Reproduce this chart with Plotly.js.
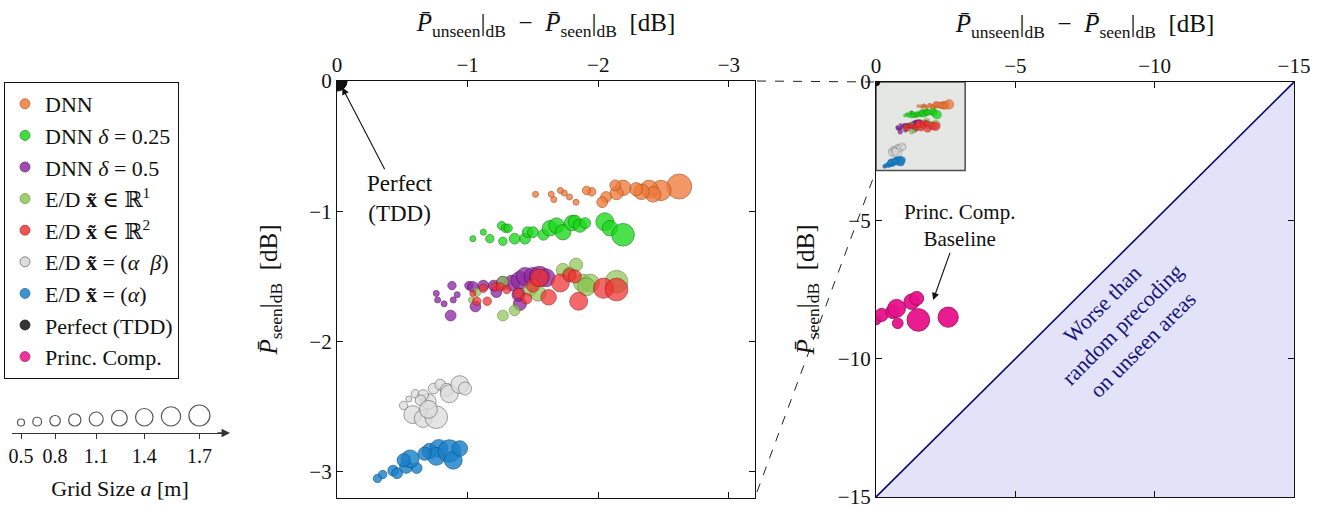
<!DOCTYPE html>
<html>
<head>
<meta charset="utf-8">
<script src="https://cdn.plot.ly/plotly-3.0.1.min.js"></script>
<style>html,body{margin:0;padding:0;background:#fff;} #chart{width:1330px;height:508px;}</style>
</head>
<body>
<div id="chart"></div>
<script>
// ---------------- DATA ----------------
const seriesNames = [
  'DNN',
  'DNN <i>δ</i> = 0.25',
  'DNN <i>δ</i> = 0.5',
  'E/D <b>x̃</b> ∈ ℝ<sup>1</sup>',
  'E/D <b>x̃</b> ∈ ℝ<sup>2</sup>',
  'E/D <b>x̃</b> = (<i>α  β</i>)',
  'E/D <b>x̃</b> = (<i>α</i>)',
  'Perfect (TDD)',
  'Princ. Comp.'
];
const seriesColors = ['#ef7b3c','#1cd81c','#8f2ba3','#8fc655','#ef3434','#dcdcdc','#1b81c9','#111111','#e8118a'];
const seriesLines  = ['#a9501c','#108a10','#5a1068','#5f8a30','#a01818','#6e6e6e','#0f5a90','#000000','#9a0a5a'];

// x: P_unseen - P_seen [dB], y: P_seen [dB], a: grid size [m]
const dnnX = [-2.62,-2.48,-2.39,-2.42,-2.33,-2.29,-2.19,-2.14,-2.06,-2.03,-2.13,-1.95,-1.91,-1.83,-1.78,-1.74,-1.71,-1.66,-1.64,-1.52];
const dnnY = [-0.81,-0.84,-0.83,-0.87,-0.85,-0.83,-0.82,-0.86,-0.89,-0.93,-0.80,-0.85,-0.84,-0.93,-0.89,-0.86,-0.84,-0.91,-0.87,-0.87];
const dnnA = [1.7,1.4,1.25,1.1,1.1,0.95,1.1,0.95,0.8,0.8,0.8,0.65,0.65,0.5,0.5,0.5,0.5,0.5,0.5,0.5];

const dnn25X = [-1.04,-1.12,-1.17,-1.26,-1.29,-1.31,-1.27,-1.36,-1.44,-1.46,-1.50,-1.58,-1.63,-1.68,-1.73,-1.80,-1.82,-1.86,-1.90,-2.05,-2.09,-2.19];
const dnn25Y = [-1.21,-1.16,-1.21,-1.11,-1.13,-1.13,-1.23,-1.21,-1.21,-1.16,-1.16,-1.18,-1.13,-1.11,-1.16,-1.09,-1.08,-1.11,-1.09,-1.08,-1.13,-1.18];
const dnn25A = [0.5,0.5,0.65,0.65,0.65,0.65,0.65,0.8,0.8,0.8,0.8,0.8,1.1,1.1,1.1,1.1,0.95,0.95,0.8,1.25,1.1,1.55];

const dnn50X = [-0.76,-0.77,-0.82,-0.89,-0.92,-0.88,-0.87,-1.01,-1.04,-1.06,-1.12,-1.20,-1.22,-1.27,-1.34,-1.40,-1.44,-1.50,-1.55,-1.60,-1.40,-1.39];
const dnn50Y = [-1.63,-1.68,-1.71,-1.68,-1.64,-1.57,-1.80,-1.57,-1.58,-1.73,-1.57,-1.57,-1.62,-1.55,-1.55,-1.53,-1.50,-1.50,-1.50,-1.51,-1.71,-1.64];
const dnn50A = [0.5,0.5,0.5,0.5,0.5,0.65,0.8,0.65,0.8,0.8,0.8,0.8,0.8,0.95,1.1,1.25,1.25,1.25,1.4,1.25,0.95,0.95];

const edR1X = [-1.27,-1.07,-1.03,-1.27,-1.36,-1.48,-1.54,-1.73,-1.83,-1.78,-1.88,-1.94,-1.91,-2.14];
const edR1Y = [-1.54,-1.62,-1.68,-1.80,-1.76,-1.60,-1.63,-1.45,-1.41,-1.48,-1.55,-1.55,-1.58,-1.54];
const edR1A = [0.8,0.65,0.5,0.8,0.8,0.95,1.1,0.95,0.95,0.95,1.25,1.25,1.25,1.55];

const edR2X = [-1.04,-1.07,-1.12,-1.15,-1.21,-1.25,-1.30,-1.39,-1.45,-1.50,-1.55,-1.62,-1.71,-1.78,-1.82,-1.85,-2.04,-2.14];
const edR2Y = [-1.63,-1.69,-1.59,-1.69,-1.58,-1.58,-1.60,-1.63,-1.67,-1.57,-1.51,-1.66,-1.55,-1.49,-1.50,-1.69,-1.59,-1.60];
const edR2A = [0.5,0.65,0.65,0.65,0.65,0.65,0.65,0.8,0.8,0.95,1.25,1.1,1.25,0.95,0.95,1.25,1.4,1.55];

const edABX = [-0.51,-0.55,-0.60,-0.58,-0.66,-0.76,-0.70,-0.66,-0.74,-0.79,-0.84,-0.86,-0.94,-0.98,-0.64,-0.70];
const edABY = [-2.49,-2.44,-2.40,-2.56,-2.59,-2.58,-2.46,-2.41,-2.36,-2.33,-2.37,-2.40,-2.33,-2.36,-2.45,-2.52];
const edABA = [0.65,0.5,0.65,1.25,1.25,1.55,1.1,0.8,0.8,0.8,0.95,1.25,1.25,0.95,0.8,1.25];

const edAX = [-0.31,-0.35,-0.43,-0.46,-0.53,-0.61,-0.56,-0.51,-0.71,-0.78,-0.76,-0.86,-0.89,-0.94,-0.67];
const edAY = [-3.05,-3.02,-2.99,-3.01,-2.96,-2.97,-2.90,-2.91,-2.84,-2.82,-2.88,-2.84,-2.91,-2.82,-2.86];
const edAA = [0.65,0.65,0.8,0.8,0.95,0.8,1.25,0.95,1.1,1.25,1.25,1.55,1.25,1.1,0.95];

const tddX = [0];
const tddY = [0];
const tddA = [1.4];

const pcX = [0.0,-0.2,-0.6,-0.74,-1.28,-1.46,-0.78,-1.52,-2.59];
const pcY = [-8.6,-8.42,-8.3,-8.18,-7.94,-7.82,-8.72,-8.60,-8.50];
const pcA = [0.75,0.95,1.0,1.25,1.1,1.0,0.8,1.55,1.4];

const gridSizes = [0.5,0.65,0.8,0.95,1.1,1.25,1.4,1.55,1.7];
const sizeTickLabels = ['0.5','0.8','1.1','1.4','1.7'];

const leftTicks = [0,-1,-2,-3];
const rightTicks = [0,-5,-10,-15];

// ---------------- BUILD ----------------
const FONT = 'Liberation Serif, Times New Roman, DejaVu Serif, serif';
const bigSize = a => 6 + (a - 0.5) * 15.8;
const smallSize = a => 3 + (a - 0.5) * 5.5;

const series = [
  [dnnX, dnnY, dnnA], [dnn25X, dnn25Y, dnn25A], [dnn50X, dnn50Y, dnn50A],
  [edR1X, edR1Y, edR1A], [edR2X, edR2Y, edR2A], [edABX, edABY, edABA],
  [edAX, edAY, edAA], [tddX, tddY, tddA]
];
const opac = [0.78,0.78,0.78,0.72,0.74,0.75,0.82,1,0.95];

const traces = [];
series.forEach((s, i) => {
  traces.push({
    type: 'scatter', mode: 'markers', x: s[0], y: s[1], xaxis: 'x', yaxis: 'y',
    showlegend: false, hoverinfo: 'skip', cliponaxis: true,
    marker: {size: s[2].map(bigSize), color: seriesColors[i], opacity: opac[i],
             line: {color: seriesLines[i], width: 0.9}}
  });
});
series.forEach((s, i) => {
  traces.push({
    type: 'scatter', mode: 'markers', x: s[0], y: s[1], xaxis: 'x2', yaxis: 'y2',
    showlegend: false, hoverinfo: 'skip', cliponaxis: true,
    marker: {size: s[2].map(smallSize), color: seriesColors[i], opacity: opac[i],
             line: {color: seriesLines[i], width: 0.5}}
  });
});
traces.push({
  type: 'scatter', mode: 'markers', x: pcX, y: pcY, xaxis: 'x2', yaxis: 'y2',
  showlegend: false, hoverinfo: 'skip', cliponaxis: true,
  marker: {size: pcA.map(bigSize), color: seriesColors[8], opacity: 0.95,
           line: {color: seriesLines[8], width: 0.9}}
});
// legend entries
seriesNames.forEach((n, i) => {
  traces.push({
    type: 'scatter', mode: 'markers', x: [null], y: [null], xaxis: 'x', yaxis: 'y',
    name: n, legendgroup: 'g' + i, showlegend: true,
    marker: {size: 10, color: seriesColors[i], opacity: i === 5 ? 1 : 0.85,
             line: {color: seriesLines[i], width: 0.8}}
  });
});
// size legend
const legD = a => 7 + (a - 0.5) / 1.2 * 14;
const ds = gridSizes.map(legD);
const pos = [9];
for (let i = 1; i < ds.length; i++) pos.push(pos[i - 1] + (ds[i - 1] + ds[i]) / 2 + 8.3);
traces.push({
  type: 'scatter', mode: 'markers', x: pos, y: ds.map(d => 7 + d / 2), xaxis: 'x3', yaxis: 'y3',
  showlegend: false, hoverinfo: 'skip', cliponaxis: false,
  marker: {size: ds, color: 'white', line: {color: '#111', width: 1.2}}
});

const W = 1330, H = 508;
const px = v => v / W, py = v => 1 - v / H;

const axBase = {
  showgrid: false, zeroline: false, showline: true, linecolor: '#111', linewidth: 1.1,
  ticks: 'inside', ticklen: 6, tickcolor: '#111', mirror: 'ticks', ticklabeloverflow: 'allow',
  tickfont: {family: FONT, size: 21, color: '#111'}
};
const xTitle = '<i>P̄</i><sub>unseen</sub>|<sub>dB</sub>  −  <i>P̄</i><sub>seen</sub>|<sub>dB</sub>  [dB]';
const yTitle = '<i>P̄</i><sub>seen</sub>|<sub>dB</sub>  [dB]';
const titleFont = {family: FONT, size: 25, color: '#111'};

const layout = {
  width: W, height: H, margin: {l: 0, r: 0, t: 0, b: 0},
  paper_bgcolor: 'white', plot_bgcolor: 'white',
  font: {family: FONT, color: '#111'},
  xaxis: Object.assign({}, axBase, {domain: [px(337), px(755)], range: [0, -3.2], side: 'top', anchor: 'y',
    tickvals: leftTicks, title: {text: xTitle, font: titleFont, standoff: 13}}),
  yaxis: Object.assign({}, axBase, {domain: [py(498), py(81)], range: [-3.2, 0], anchor: 'x',
    tickvals: leftTicks, title: {text: yTitle, font: titleFont, standoff: 24}}),
  xaxis2: Object.assign({}, axBase, {domain: [px(876), px(1294)], range: [0, -15], side: 'top', anchor: 'y2',
    tickvals: rightTicks, title: {text: xTitle, font: titleFont, standoff: 13}}),
  yaxis2: Object.assign({}, axBase, {domain: [py(497), py(82)], range: [-15, 0], anchor: 'x2',
    tickvals: rightTicks, title: {text: yTitle, font: titleFont, standoff: 16}}),
  xaxis3: {domain: [px(12), px(228)], range: [0, 216], anchor: 'y3', showgrid: false, zeroline: false,
    showline: true, linecolor: '#333', linewidth: 1.3, ticks: 'outside', ticklen: 5, tickcolor: '#333',
    tickvals: [pos[0], pos[2], pos[4], pos[6], pos[8]], ticktext: sizeTickLabels,
    tickfont: {family: FONT, size: 20, color: '#111'},
    title: {text: 'Grid Size <i>a</i> [m]', font: {family: FONT, size: 22, color: '#111'}, standoff: 14}},
  yaxis3: {domain: [py(433), py(405)], range: [0, 28], anchor: 'x3', visible: false},
  showlegend: true,
  legend: {x: px(4), y: py(82), xanchor: 'left', yanchor: 'top', bordercolor: '#111', borderwidth: 1,
    bgcolor: 'white', font: {family: FONT, size: 22, color: '#111'}, tracegroupgap: 0, itemwidth: 30},
  shapes: [
    {type: 'path', xref: 'x2', yref: 'y2', path: 'M 0,-15 L -15,0 L -15,-15 Z', fillcolor: '#e2e2f8', line: {width: 0}, layer: 'below'},
    {type: 'line', xref: 'x2', yref: 'y2', x0: 0, y0: -15, x1: -15, y1: 0, line: {color: '#0b0b6e', width: 1.6}},
    {type: 'rect', xref: 'x2', yref: 'y2', x0: 0, y0: 0, x1: -3.2, y1: -3.2, fillcolor: '#e5e7e5', line: {color: '#4d4d4d', width: 1.5}, layer: 'below'},
    {type: 'line', xref: 'paper', yref: 'paper', x0: px(757), y0: py(81), x1: px(876), y1: py(82), line: {color: '#222', width: 1, dash: 'dash'}},
    {type: 'line', xref: 'paper', yref: 'paper', x0: px(757), y0: py(492), x1: px(876), y1: py(170.5), line: {color: '#222', width: 1, dash: 'dash'}}
  ],
  annotations: [
    {xref: 'x', yref: 'y', x: -0.04, y: -0.05, axref: 'x', ayref: 'y', ax: -0.48, ay: -0.9,
     text: 'Perfect<br>(TDD)', showarrow: true, arrowhead: 2, arrowsize: 1.3, arrowwidth: 1.1, arrowcolor: '#111',
     font: {family: FONT, size: 23, color: '#111'}},
    {xref: 'x2', yref: 'y2', x: -2.05, y: -7.88, axref: 'x2', ayref: 'y2', ax: -3.0, ay: -5.2,
     text: 'Princ. Comp.<br>Baseline', showarrow: true, arrowhead: 2, arrowsize: 1.3, arrowwidth: 1.1, arrowcolor: '#111',
     font: {family: FONT, size: 21, color: '#111'}},
    {xref: 'x2', yref: 'y2', x: -8.85, y: -8.75, text: 'Worse than<br>random precoding<br>on unseen areas',
     showarrow: false, textangle: -45, font: {family: FONT, size: 22, color: '#15157a'}},
    {xref: 'paper', yref: 'paper', x: px(230), y: py(433), ax: -14, ay: 0, text: '', showarrow: true,
     arrowhead: 2, arrowsize: 1.3, arrowwidth: 1.3, arrowcolor: '#333'}
  ]
};

Plotly.newPlot('chart', traces, layout, {displayModeBar: false, staticPlot: true});
</script>
</body>
</html>
